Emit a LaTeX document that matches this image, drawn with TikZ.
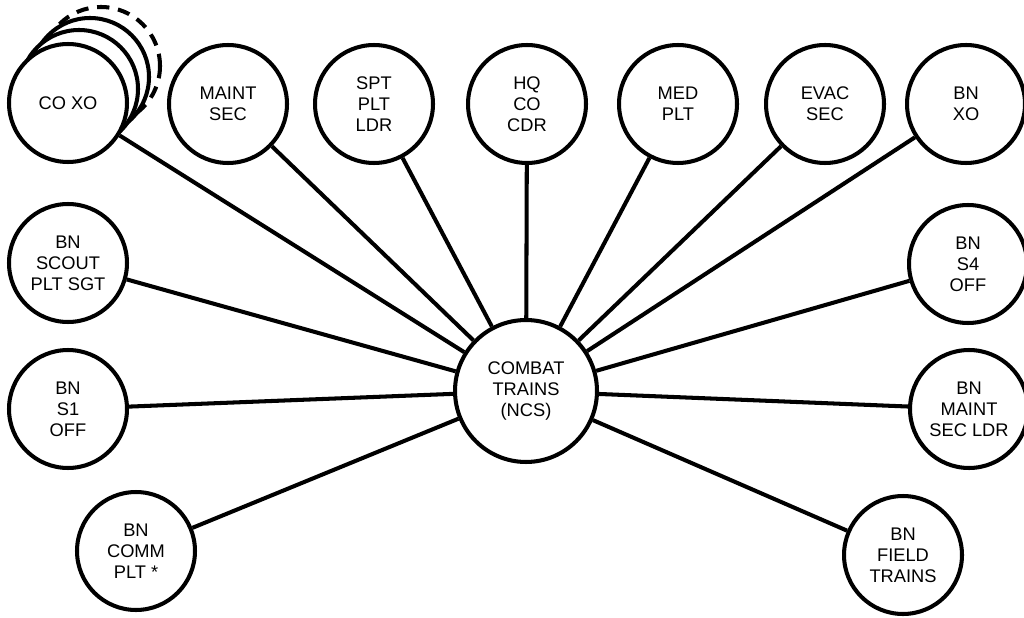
\documentclass[tikz,border=0pt]{standalone}
\usepackage{fontspec}
\setmainfont{Liberation Sans}
\tikzset{>=latex}

\begin{document}
\begin{tikzpicture}[x=0.02cm, y=-0.02cm, line width=2.3pt,
    every node/.style={draw, circle, inner sep=0pt, align=center, fill=white,
        font=\fontsize{10.4}{12}\selectfont},
    unit/.style={minimum size=2.36cm},
    hub/.style={minimum size=2.84cm}]
    \useasboundingbox (0,0) rectangle (1024,618);

    % Stacked circles behind CO XO
    \draw[fill=white, dash pattern=on 7pt off 5pt] (101,66) circle [radius=59];
    \draw[fill=white] (90,77) circle [radius=59];
    \draw[fill=white] (79,89) circle [radius=59];

    % Nodes
    \node (ct) [hub] at (526,391) {COMBAT\\TRAINS\\(NCS)};
    \node (coxo) [unit] at (68,103) {CO XO};
    \node (maint) [unit] at (228,104) {MAINT\\SEC};
    \node (spt) [unit] at (374,104) {SPT\\PLT\\LDR};
    \node (hqco) [unit] at (527,104) {HQ\\CO\\CDR};
    \node (med) [unit] at (678,104) {MED\\PLT};
    \node (evac) [unit] at (825,104) {EVAC\\SEC};
    \node (bnxo) [unit] at (966,104) {BN\\XO};
    \node (scout) [unit] at (68,263) {BN\\SCOUT\\PLT SGT};
    \node (s4) [unit] at (968,264) {BN\\S4\\OFF};
    \node (s1) [unit] at (68,409) {BN\\S1\\OFF};
    \node (bnmaint) [unit] at (969,409) {BN\\MAINT\\SEC LDR};
    \node (comm) [unit] at (136,551) {BN\\COMM\\PLT *};
    \node (field) [unit] at (903,555) {BN\\FIELD\\TRAINS};

    % Links
    \draw (coxo) -- (ct);
    \draw (maint) -- (ct);
    \draw (spt) -- (ct);
    \draw (hqco) -- (ct);
    \draw (med) -- (ct);
    \draw (evac) -- (ct);
    \draw (bnxo) -- (ct);
    \draw (scout) -- (ct);
    \draw (s4) -- (ct);
    \draw (s1) -- (ct);
    \draw (bnmaint) -- (ct);
    \draw (comm) -- (ct);
    \draw (field) -- (ct);
\end{tikzpicture}
\end{document}
